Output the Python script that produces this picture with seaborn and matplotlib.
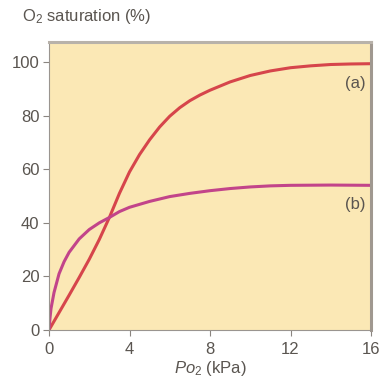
import matplotlib
matplotlib.use("Agg")
import matplotlib.pyplot as plt
import seaborn as sns

# curve (a): sigmoid haemoglobin-like curve
po2_a = [0, 0.5, 1, 1.5, 2, 2.5, 3, 3.5, 4, 4.5, 5, 5.5, 6, 6.5, 7, 7.5, 8, 9, 10, 11, 12, 13, 14, 15, 16]
sat_a = [0, 6.5, 13, 19.6, 26.4, 33.8, 42, 51, 59, 65.5, 71, 75.8, 79.8, 83, 85.6, 87.7, 89.5, 92.6, 95,
         96.7, 97.9, 98.6, 99.1, 99.3, 99.4]

# curve (b): hyperbolic myoglobin-like curve
po2_b = [0, 0.05, 0.1, 0.25, 0.5, 0.75, 1, 1.5, 2, 2.5, 3, 3.5, 4, 5, 6, 7, 8, 9, 10, 11, 12, 14, 16]
sat_b = [0, 4.5, 8, 14, 21, 25.5, 29, 34, 37.5, 40, 42, 44.2, 45.8, 48, 49.8, 51, 52, 52.8, 53.4,
         53.8, 54, 54.1, 54]

curve_labels = ["(a)", "(b)"]
xticks = [0, 4, 8, 12, 16]
yticks = [0, 20, 40, 60, 80, 100]

sns.set_style("white")
plt.rcParams["font.family"] = ["Liberation Sans", "DejaVu Sans"]
plt.rcParams["mathtext.fontset"] = "custom"
plt.rcParams["mathtext.rm"] = "Liberation Sans"
plt.rcParams["mathtext.it"] = "Liberation Sans:italic"

text_col = "#5a5550"
fig = plt.figure(figsize=(3.81, 3.77), dpi=100)
ax = fig.add_axes([49 / 381, 1 - 330 / 377, 322 / 381, 288 / 377])
ax.set_facecolor("#fbe8b5")

sns.lineplot(x=po2_a, y=sat_a, ax=ax, color="#d6454b", linewidth=2.2)
sns.lineplot(x=po2_b, y=sat_b, ax=ax, color="#c2448a", linewidth=2.2)

ax.text(15.75, 92, curve_labels[0], ha="right", va="center", fontsize=12, color=text_col)
ax.text(15.75, 47, curve_labels[1], ha="right", va="center", fontsize=12, color=text_col)

ax.set_xlim(0, 16)
ax.set_ylim(0, 107.5)
ax.set_xticks(xticks)
ax.set_yticks(yticks)
ax.tick_params(axis="both", direction="out", length=4, width=0.8, color="#8a8580",
               labelsize=12, labelcolor=text_col, left=True, bottom=True)
ax.tick_params(axis="y", pad=3)
ax.tick_params(axis="x", pad=5)

for side in ["left", "bottom"]:
    ax.spines[side].set_color("#9a9590")
    ax.spines[side].set_linewidth(0.8)
ax.spines["right"].set_color("#a09890")
ax.spines["right"].set_linewidth(2.2)
ax.spines["top"].set_color("#b8b2aa")
ax.spines["top"].set_linewidth(2.2)

ax.set_xlabel(r"$\mathit{Po}_2$ (kPa)", fontsize=12, color=text_col, labelpad=1)
fig.text(22 / 381, 1 - 17 / 377, r"O$_2$ saturation (%)", fontsize=12,
         color=text_col, ha="left", va="center")

fig.savefig("out.png", dpi=100, facecolor="white")
